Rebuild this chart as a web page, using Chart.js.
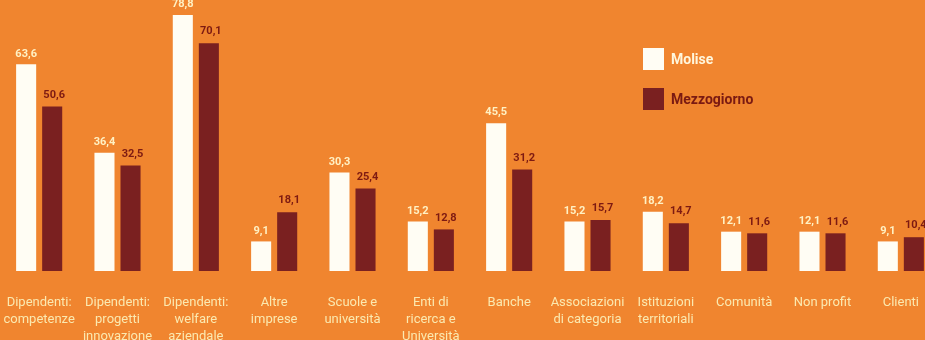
<!DOCTYPE html>
<html lang="it">
<head>
    <meta charset="UTF-8">
    <title>Molise vs Mezzogiorno</title>
    <script src="https://cdn.jsdelivr.net/npm/chart.js"></script>
    <style>
        body {
            margin: 0;
            width: 925px;
            height: 340px;
            overflow: hidden;
            background-color: #f0852f;
            font-family: Roboto, sans-serif;
            position: relative;
        }
        #chart-container {
            position: absolute;
            left: 0;
            top: 0;
            width: 940px;
            height: 340px;
        }
        .title {
            position: absolute;
            left: 312px;
            top: -13px;
            font-size: 14px;
            font-weight: bold;
            color: #5a2a10;
        }
        .legend {
            position: absolute;
            left: 643px;
            font-size: 14px;
            font-weight: bold;
        }
        .legend span.box {
            display: inline-block;
            width: 21px;
            height: 22px;
            vertical-align: middle;
            margin-right: 7px;
        }
        .legend span.txt { vertical-align: middle; }
    </style>
</head>
<body>
    <div id="chart-container">
        <canvas id="barChart" width="940" height="340"></canvas>
    </div>
    <div class="title">valori in %</div>
    <div class="legend" style="top:48px;"><span class="box" style="background:#fffdf4;"></span><span class="txt" style="color:#fff6dc;">Molise</span></div>
    <div class="legend" style="top:88px;"><span class="box" style="background:#7a2020;"></span><span class="txt" style="color:#7a1a12;">Mezzogiorno</span></div>

    <script>
        const categories = [
            ['Dipendenti:', 'competenze'],
            ['Dipendenti:', 'progetti', 'innovazione'],
            ['Dipendenti:', 'welfare', 'aziendale'],
            ['Altre', 'imprese'],
            ['Scuole e', 'università'],
            ['Enti di', 'ricerca e', 'Università'],
            'Banche',
            ['Associazioni', 'di categoria'],
            ['Istituzioni', 'territoriali'],
            'Comunità',
            'Non profit',
            'Clienti'
        ];
        const molise = [63.6, 36.4, 78.8, 9.1, 30.3, 15.2, 45.5, 15.2, 18.2, 12.1, 12.1, 9.1];
        const mezzogiorno = [50.6, 32.5, 70.1, 18.1, 25.4, 12.8, 31.2, 15.7, 14.7, 11.6, 11.6, 10.4];

        const labelColors = ['#fff1c4', '#7d1a12'];

        // value labels above each bar, italian decimal comma
        const valueLabels = {
            id: 'valueLabels',
            afterDatasetsDraw(chart) {
                const ctx = chart.ctx;
                ctx.save();
                ctx.font = 'bold 11px Roboto, sans-serif';
                ctx.textAlign = 'center';
                ctx.textBaseline = 'bottom';
                chart.data.datasets.forEach((ds, i) => {
                    ctx.fillStyle = labelColors[i];
                    chart.getDatasetMeta(i).data.forEach((bar, j) => {
                        const txt = ds.data[j].toFixed(1).replace('.', ',');
                        ctx.fillText(txt, bar.x + (i === 1 ? 2 : 0), bar.y - (i === 1 ? 6 : 5));
                    });
                });
                ctx.restore();
            }
        };

        const ctx = document.getElementById('barChart').getContext('2d');
        new Chart(ctx, {
            type: 'bar',
            data: {
                labels: categories,
                datasets: [
                    { label: 'Molise', data: molise, backgroundColor: '#fffdf4' },
                    { label: 'Mezzogiorno', data: mezzogiorno, backgroundColor: '#7a2020' }
                ]
            },
            options: {
                responsive: false,
                animation: false,
                layout: { padding: 0 },
                datasets: {
                    bar: { categoryPercentage: 0.665, barPercentage: 0.77 }
                },
                plugins: {
                    legend: { display: false },
                    tooltip: { enabled: false }
                },
                scales: {
                    x: {
                        grid: { display: false },
                        border: { display: false },
                        ticks: {
                            color: '#fbe9b0',
                            padding: 15,
                            maxRotation: 0,
                            autoSkip: false,
                            font: { size: 13, family: 'Roboto, sans-serif', lineHeight: 1.3 }
                        },
                        afterFit(scale) {
                            scale.height = 69;
                            scale.paddingLeft = 0;
                            scale.paddingRight = 0;
                        }
                    },
                    y: {
                        display: false,
                        min: 0,
                        max: 83.4
                    }
                }
            },
            plugins: [valueLabels]
        });
    </script>
</body>
</html>
